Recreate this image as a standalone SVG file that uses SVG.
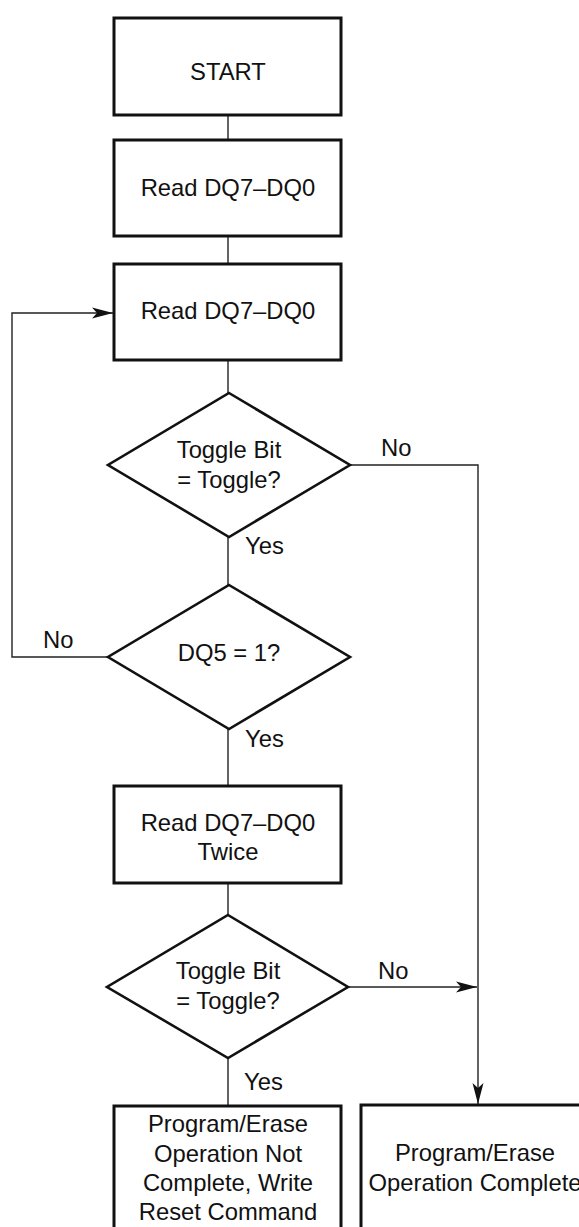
<svg xmlns="http://www.w3.org/2000/svg" width="579" height="1227" viewBox="0 0 579 1227">
<style>
.box{fill:#fff;stroke:#111;stroke-width:3}
.dia{fill:#fff;stroke:#111;stroke-width:2.6}
.ln{fill:none;stroke:#222;stroke-width:1.4}
text{font-family:"Liberation Sans",Arial,sans-serif;font-size:23.8px;fill:#111}
.c{text-anchor:middle}
</style>
<defs>
<marker id="ah" markerUnits="userSpaceOnUse" markerWidth="22" markerHeight="12" refX="21" refY="6" orient="auto">
<path d="M0,0.5 L21,6 L0,11.5 L5,6 Z" fill="#111"/>
</marker>
</defs>
<rect width="579" height="1227" fill="#fff"/>
<g id="connectors">
<line class="ln" x1="228" y1="115" x2="228" y2="140"/>
<line class="ln" x1="228" y1="236" x2="228" y2="264"/>
<line class="ln" x1="228" y1="360" x2="228" y2="393"/>
<line class="ln" x1="228" y1="537" x2="228" y2="585"/>
<line class="ln" x1="228" y1="729" x2="228" y2="786"/>
<line class="ln" x1="228" y1="883" x2="228" y2="915"/>
<line class="ln" x1="228" y1="1058" x2="228" y2="1106"/>
<polyline class="ln" points="108,657 12,657 12,313 113,313" marker-end="url(#ah)"/>
<polyline class="ln" points="349,465 478,465 478,1104" marker-end="url(#ah)"/>
<line class="ln" x1="348" y1="987" x2="477" y2="987" marker-end="url(#ah)"/>
<text x="381" y="456">No</text>
<text x="245" y="554">Yes</text>
<text x="43" y="648">No</text>
<text x="245" y="747">Yes</text>
<text x="378" y="979">No</text>
<text x="244" y="1090">Yes</text>
</g>
<g id="start">
<rect class="box" x="114" y="18" width="227" height="97"/>
<text class="c" x="228" y="80">START</text>
</g>
<g id="read1">
<rect class="box" x="114" y="140" width="227" height="96"/>
<text class="c" x="228" y="196">Read DQ7–DQ0</text>
</g>
<g id="read2">
<rect class="box" x="114" y="264" width="227" height="96"/>
<text class="c" x="228" y="319">Read DQ7–DQ0</text>
</g>
<g id="toggle1">
<polygon class="dia" points="229,393 350,465 229,537 108,465"/>
<text class="c" x="229" y="458">Toggle Bit</text>
<text class="c" x="229" y="488">= Toggle?</text>
</g>
<g id="dq5">
<polygon class="dia" points="229,585 350,657 229,729 108,657"/>
<text class="c" x="229" y="661">DQ5 = 1?</text>
</g>
<g id="read3">
<rect class="box" x="114" y="786" width="227" height="97"/>
<text class="c" x="228" y="831">Read DQ7–DQ0</text>
<text class="c" x="228" y="860">Twice</text>
</g>
<g id="toggle2">
<polygon class="dia" points="228,915 348,987 228,1058 107,987"/>
<text class="c" x="228" y="979">Toggle Bit</text>
<text class="c" x="228" y="1009">= Toggle?</text>
</g>
<g id="notcomplete">
<rect class="box" x="114" y="1106" width="227" height="140"/>
<text class="c" x="228" y="1132">Program/Erase</text>
<text class="c" x="228" y="1162">Operation Not</text>
<text class="c" x="228" y="1191">Complete, Write</text>
<text class="c" x="228" y="1220">Reset Command</text>
</g>
<g id="complete">
<rect class="box" x="361" y="1105" width="240" height="140"/>
<text class="c" x="475" y="1161">Program/Erase</text>
<text class="c" x="475" y="1191">Operation Complete</text>
</g>
</svg>
